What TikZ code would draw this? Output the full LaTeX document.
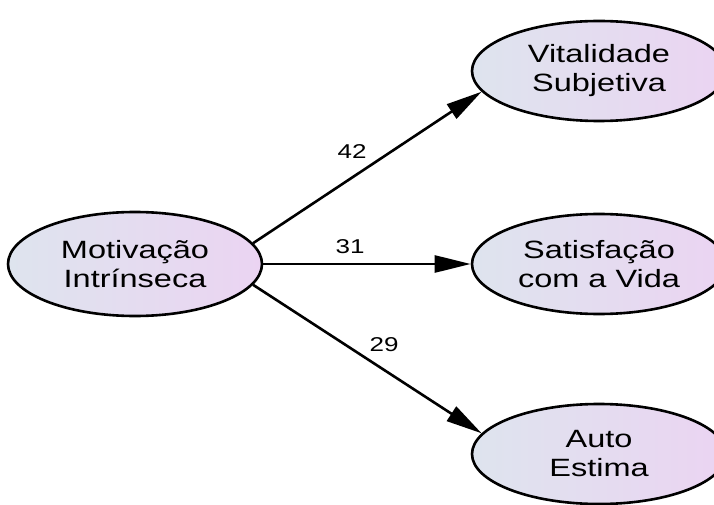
\documentclass[tikz,border=0pt]{standalone}
\usepackage{fontspec}
\setmainfont{Liberation Sans}[FakeStretch=1.3]
\usetikzlibrary{shapes.geometric,arrows.meta}
\definecolor{shadeL}{RGB}{222,228,238}
\definecolor{shadeR}{RGB}{235,212,242}
\tikzset{
  latent/.style={ellipse, draw=black, line width=2.6pt, minimum width=254pt, minimum height=100pt,
    left color=shadeL, right color=shadeR, align=center, inner sep=0pt,
    font=\fontsize{25}{29}\selectfont},
  path/.style={draw=black, line width=2.6pt, -{Triangle[length=36pt,width=17pt]}},
  coef/.style={font=\fontsize{20}{22}\selectfont, inner sep=0pt}
}
\begin{document}
\begin{tikzpicture}[x=1pt,y=1pt]
\useasboundingbox (0,0) rectangle (714,504);
\clip (0,0) rectangle (714,504);
\fill[white] (0,0) rectangle (714,504);
\node[latent, minimum height=104pt] (L) at (135,240) {Motivação\\Intrínseca};
\node[latent] (V) at (599,433) {Vitalidade\\Subjetiva};
\node[latent] (S) at (599,240) {Satisfação\\com a Vida};
\node[latent] (A) at (599,50) {Auto\\Estima};
\draw[path] (L.10) -- (V.190);
\draw[path] (L.east) -- (S.west);
\draw[path] (L.-10) -- (A.170);
\node[coef] (c1) at (352,352) {42};
\node[coef] (c2) at (350,257) {31};
\node[coef] (c3) at (384,159) {29};
\end{tikzpicture}
\end{document}
